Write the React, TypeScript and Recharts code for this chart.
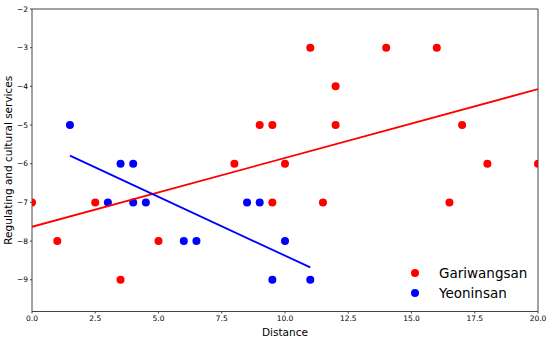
import React from 'react';
import { ScatterChart, Scatter, XAxis, YAxis, Legend, ReferenceLine } from 'recharts';

// points
const gariX = [0, 1, 2.5, 3.5, 5, 8, 9, 9.5, 9.5, 10, 11, 11.5, 12, 12, 14, 16, 16.5, 17, 18, 20];
const gariY = [-7, -8, -7, -9, -8, -6, -5, -5, -7, -6, -3, -7, -4, -5, -3, -3, -7, -5, -6, -6];
const yeonX = [1.5, 3.5, 4, 3, 4, 4.5, 6, 6.5, 8.5, 9, 10, 9.5, 11];
const yeonY = [-5, -6, -6, -7, -7, -7, -8, -8, -7, -7, -8, -9, -9];

// fitted trend lines (end points)
const gariFitX = [0, 20];
const gariFitY = [-7.63, -4.07];
const yeonFitX = [1.5, 11];
const yeonFitY = [-5.79, -8.68];

const xTicks = [0, 2.5, 5, 7.5, 10, 12.5, 15, 17.5, 20];
const yTicks = [-9, -8, -7, -6, -5, -4, -3, -2];
const xMax = 20;
const yMax = -2;

const zip = (xs: number[], ys: number[]) => xs.map((x, i) => ({ x, y: ys[i] }));

const gariData = zip(gariX, gariY);
const yeonData = zip(yeonX, yeonY);
const gariFit = zip(gariFitX, gariFitY);
const yeonFit = zip(yeonFitX, yeonFitY);

const FONT = '"DejaVu Sans", sans-serif';
const AXIS = '#444';

const legendItems = [
  { name: 'Gariwangsan', color: '#ff0000' },
  { name: 'Yeoninsan', color: '#0000ff' },
];

const LegendBox = () => (
  <div style={{ fontFamily: FONT, fontSize: 13.5 }}>
    {legendItems.map((it) => (
      <div key={it.name} style={{ display: 'flex', alignItems: 'center', height: 20 }}>
        <div style={{ width: 8, height: 8, borderRadius: '50%', background: it.color, marginRight: 20 }} />
        <span>{it.name}</span>
      </div>
    ))}
  </div>
);

const Dot = (props: any) => {
  const { cx, cy, fill } = props;
  return <circle cx={cx} cy={cy} r={4} fill={fill} />;
};

const noShape = () => null;

const minus = (v: number) => String(v).replace('-', '\u2212');

export default function App() {
  return (
    <div style={{ position: 'absolute', left: 0, top: 0, width: 550, height: 339, background: '#fff' }}>
      <ScatterChart width={550} height={339} margin={{ top: 9, right: 12, bottom: 0, left: 0 }}>
        <XAxis
          type="number"
          dataKey="x"
          domain={[0, 20]}
          ticks={xTicks}
          allowDataOverflow
          tickFormatter={(v: number) => v.toFixed(1)}
          tick={{ fontSize: 7.5, fill: '#000', fontFamily: FONT }}
          tickSize={2}
          tickLine={{ stroke: AXIS }}
          axisLine={{ stroke: AXIS }}
          height={27.5}
          label={{ value: 'Distance', position: 'insideBottom', offset: 3.5, fontSize: 10.5, fill: '#000', fontFamily: FONT }}
        />
        <YAxis
          type="number"
          dataKey="y"
          domain={[-9.82, -2]}
          ticks={yTicks}
          allowDataOverflow
          tickFormatter={minus}
          tick={{ fontSize: 7.5, fill: '#000', fontFamily: FONT }}
          tickSize={2}
          tickLine={{ stroke: AXIS }}
          axisLine={{ stroke: AXIS }}
          width={32}
          label={{
            value: 'Regulating and cultural services',
            angle: -90,
            position: 'center',
            dx: -8,
            fontSize: 10.5,
            fill: '#000',
            fontFamily: FONT,
          }}
        />
        <ReferenceLine y={yMax} stroke={AXIS} />
        <ReferenceLine x={xMax} stroke={AXIS} />
        <Scatter name="Gariwangsan" data={gariData} fill="#ff0000" shape={Dot} isAnimationActive={false} />
        <Scatter name="Yeoninsan" data={yeonData} fill="#0000ff" shape={Dot} isAnimationActive={false} />
        <Scatter data={gariFit} fill="#ff0000" line={{ stroke: '#ff0000', strokeWidth: 1.8 }} shape={noShape} legendType="none" isAnimationActive={false} />
        <Scatter data={yeonFit} fill="#0000ff" line={{ stroke: '#0000ff', strokeWidth: 1.8 }} shape={noShape} legendType="none" isAnimationActive={false} />
        <Legend
          layout="horizontal"
          verticalAlign="middle"
          align="center"
          content={<LegendBox />}
          wrapperStyle={{ position: 'absolute', left: 411, top: 263, width: 'auto' }}
        />
      </ScatterChart>
    </div>
  );
}
